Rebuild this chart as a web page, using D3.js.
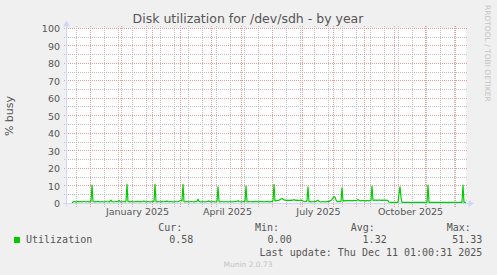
<!DOCTYPE html>
<html><head><meta charset="utf-8">
<script src="https://cdn.jsdelivr.net/npm/d3@7"></script>
<style>
html,body{margin:0;padding:0;background:#f0f0f0;}
svg{display:block;}
</style></head><body>
<svg id="c" width="497" height="275"></svg>
<script>
// ---- data ----
const chartTitle = "Disk utilization for /dev/sdh - by year";
const yAxisLabel = "% busy";
const seriesName = "Utilization";
const firstDay = "2024-11-07";          // first daily sample
const domainStart = "2024-11-06T12:00:00Z";
const domainEnd = "2025-12-11T12:00:00Z";
// daily average utilization (%), one value per day
const utilization = [
  0,0,0,0,0,0,0.9,1.1,1.0,0.8,
  1.0,1.2,0.9,1.0,1.1,0.9,1.0,1.3,1.0,0.9,
  1.0,1.1,0.9,1.0,1.2,10.5,1.1,1.0,0.9,1.1,
  1.0,1.2,1.0,0.9,1.0,1.1,1.0,0.9,1.0,1.1,
  1.0,1.0,0.9,1.2,1.9,1.1,1.0,0.9,1.0,1.1,
  1.0,1.2,1.8,1.0,0.9,1.0,1.1,1.0,0.9,1.2,
  11.0,1.0,1.1,0.9,1.0,1.1,1.0,0.9,1.0,1.1,
  1.0,1.2,1.0,0.9,1.1,1.0,1.0,1.5,1.1,0.9,
  1.0,1.1,1.0,0.9,1.0,1.1,1.0,1.2,11.0,1.0,
  0.9,1.1,1.0,1.0,0.9,1.1,1.0,1.0,1.2,1.0,
  1.5,1.0,0.9,1.0,1.1,1.0,0.9,1.0,1.1,1.0,
  1.0,1.1,1.3,1.6,1.9,1.4,11.0,1.0,0.9,1.0,
  1.1,1.0,0.9,1.0,1.1,1.0,1.0,0.9,1.1,1.0,
  1.3,2.4,1.2,1.0,0.9,1.0,1.1,1.0,0.9,1.0,
  1.1,1.2,1.5,1.0,0.9,1.0,1.1,1.0,0.9,1.0,
  1.1,9.5,1.0,0.9,1.0,1.1,1.0,0.9,1.0,1.1,
  1.0,0.9,1.0,1.1,1.0,0.9,1.0,1.1,1.0,1.2,
  1.3,1.6,1.1,1.0,0.9,1.0,1.1,1.0,1.2,10.0,
  1.0,0.9,1.1,1.0,1.0,1.1,0.9,1.0,1.2,1.0,
  1.1,1.0,0.9,1.3,1.0,1.1,1.0,0.9,1.0,1.1,
  1.0,1.2,1.0,0.9,1.1,1.2,1.5,11.0,1.4,1.6,
  1.8,1.7,1.9,2.2,2.6,2.9,2.4,2.0,1.9,1.8,
  1.8,1.9,1.7,1.8,1.9,1.8,2.0,2.2,1.9,1.8,
  1.9,1.8,1.7,1.8,1.9,1.8,1.4,1.1,1.0,1.2,
  1.5,9.5,1.0,1.1,0.9,1.0,1.0,1.1,1.0,1.2,
  1.5,1.9,1.3,1.0,0.9,1.0,1.1,1.0,0.9,1.0,
  1.1,1.0,1.2,1.5,1.8,2.4,3.2,4.0,3.6,2.0,
  1.2,1.0,1.1,1.0,1.3,9.0,1.4,1.5,1.6,1.5,
  1.7,1.6,1.5,1.7,1.6,1.5,1.6,1.8,1.7,1.6,
  1.9,2.3,1.8,1.6,1.5,1.6,1.7,1.5,1.6,1.5,
  1.6,1.7,1.5,1.6,1.8,10.0,1.9,1.8,2.0,1.9,
  1.8,1.9,2.0,1.9,1.8,1.9,1.8,2.0,1.9,1.8,
  1.9,1.6,0.8,0.7,0.6,0.7,0.6,0.7,0.6,0.7,
  0.6,0.7,5.5,9.5,3.5,0.6,0.6,0.6,0.6,0.6,
  0.6,0.6,0.6,0.6,0.6,0.6,0.6,0.6,0.6,0.6,
  0.6,0.6,0.6,0.6,0.6,0.6,0.6,0.6,0.6,0.6,
  0.6,10.5,0.6,0.6,0.6,0.6,0.6,0.6,0.6,0.6,
  0.6,0.6,0.6,0.6,0.6,0.6,0.6,0.6,0.6,0.6,
  0.6,0.6,0.6,0.6,0.6,0.6,0.6,0.6,0.6,0.6,
  0.6,0.6,0.6,0.6,0.6,0.6,10.5,0.6,0.6,0.58
];
const yTicks = [0,10,20,30,40,50,60,70,80,90,100];
const yMinorTicks = [5,15,25,35,45,55,65,75,85,95];
const monthLabelDates = ["2025-01-01","2025-04-01","2025-07-01","2025-10-01"];
const monthGridDates = ["2024-12-01","2025-01-01","2025-02-01","2025-03-01","2025-04-01","2025-05-01",
  "2025-06-01","2025-07-01","2025-08-01","2025-09-01","2025-10-01","2025-11-01","2025-12-01"];
const minorGridFirst = "2024-11-17";
const legendHeaders = ["Cur:","Min:","Avg:","Max:"];
const legendValues = ["0.58","0.00","1.32","51.33"];
const lastUpdate = "Last update: Thu Dec 11 01:00:31 2025";
const watermark = "RRDTOOL / TOBI OETIKER";
const footer = "Munin 2.0.73";

// ---- drawing ----
const svg = d3.select("#c");
const W = 497, H = 275;
const parse = s => new Date(s.length === 10 ? s + "T00:00:00Z" : s);
const x = d3.scaleUtc().domain([parse(domainStart), parse(domainEnd)]).range([66, 466]);
const y = d3.scaleLinear().domain([0, 100]).range([203.5, 28.5]);
const [x0, x1] = x.range();
const [yb, yt] = y.range();
const colX = v => Math.floor(v + 0.01);      // pixel column of a vertical line
const rowY = v => Math.floor(v - 0.25);      // pixel row of a horizontal line

svg.append("rect").attr("width", W).attr("height", H).attr("fill", "#f0f0f0");
svg.append("rect").attr("x", x0).attr("y", yt - 0.5).attr("width", x1 - x0).attr("height", yb - yt + 0.5).attr("fill", "#ffffff");

const minorCol = "#c0c0c0";
const majorCol = "#e89c9c";
// dotted patterns (one pixel on, one off)
const defs = svg.append("defs");
function dotPattern(id, w, h, col) {
  const p = defs.append("pattern").attr("id", id).attr("patternUnits", "userSpaceOnUse")
    .attr("width", w).attr("height", h);
  p.append("rect").attr("width", 1).attr("height", 1).attr("fill", col);
}
dotPattern("vmin", 1, 2, minorCol);
dotPattern("vmaj", 1, 2, majorCol);
dotPattern("hmin", 2, 1, minorCol);
dotPattern("hmaj", 2, 1, majorCol);

const g = svg.append("g").attr("shape-rendering", "crispEdges");
const gTop = Math.floor(yt) - 2, gBot = Math.floor(yb) + 4;
// horizontal minor
g.selectAll(".hmin").data(yMinorTicks).enter().append("rect")
  .attr("x", x0 - 3).attr("width", x1 - x0 + 5).attr("y", d => rowY(y(d))).attr("height", 1)
  .attr("fill", "url(#hmin)");
// vertical minor (every 14 days)
const minorDates = d3.utcDay.range(parse(minorGridFirst), parse(domainEnd), 14);
g.selectAll(".vmin").data(minorDates).enter().append("rect")
  .attr("x", d => colX(x(d))).attr("width", 1).attr("y", gTop).attr("height", gBot - gTop)
  .attr("fill", "url(#vmin)");
// horizontal major
g.selectAll(".hmaj").data(yTicks).enter().append("rect")
  .attr("x", x0 - 3).attr("width", x1 - x0 + 5).attr("y", d => rowY(y(d))).attr("height", 1)
  .attr("fill", "url(#hmaj)");
// vertical major
g.selectAll(".vmaj").data(monthGridDates.map(parse)).enter().append("rect")
  .attr("x", d => colX(x(d))).attr("width", 1).attr("y", gTop).attr("height", gBot - gTop)
  .attr("fill", "url(#vmaj)");

// y axis labels
const yAxis = d3.axisLeft(y).tickValues(yTicks).tickSize(0).tickPadding(6);
const ya = svg.append("g").attr("transform", `translate(${x0},0)`).call(yAxis);
ya.select(".domain").remove();
ya.selectAll("text").attr("font-family", "DejaVu Sans").attr("font-size", "9.5px").attr("fill", "#555");

// x axis labels (centred in the middle of the month, as rrdtool does)
const labelPos = monthLabelDates.map(s => d3.utcHour.offset(parse(s), 372));
const xAxis = d3.axisBottom(x).tickValues(labelPos).tickSize(0).tickPadding(0)
  .tickFormat(d => d3.utcFormat("%B %Y")(d));
const xa = svg.append("g").attr("transform", `translate(0,${yb})`).call(xAxis);
xa.select(".domain").remove();
xa.selectAll("text").attr("font-family", "DejaVu Sans").attr("font-size", "9.5px").attr("fill", "#555")
  .attr("dy", null).attr("y", 11.5);

// series
const dayDates = utilization.map((v, i) => d3.utcDay.offset(parse(firstDay), i));
const line = d3.line().x((d, i) => x(dayDates[i]) + 0.5).y(d => y(d));
svg.append("path").datum(utilization).attr("d", line)
  .attr("fill", "none").attr("stroke", "#00cc00").attr("stroke-width", 1.2).attr("stroke-linejoin", "round");

// axes with arrows
const axisCol = "#CFD6F8";
svg.append("line").attr("x1", x0 - 3).attr("x2", x1 + 3).attr("y1", yb).attr("y2", yb).attr("stroke", axisCol);
svg.append("line").attr("x1", x0 + 0.5).attr("x2", x0 + 0.5).attr("y1", yb + 3).attr("y2", yt - 3).attr("stroke", axisCol);
svg.append("path").attr("d", `M${x1 + 2.5},${yb - 3.5}L${x1 + 8},${yb}L${x1 + 2.5},${yb + 3.5}Z`).attr("fill", axisCol);
svg.append("path").attr("d", `M${x0 - 3},${yt - 2}L${x0 + 0.5},${yt - 8}L${x0 + 4},${yt - 2}Z`).attr("fill", axisCol);

// title
svg.append("text").attr("x", 248).attr("y", 23).attr("text-anchor", "middle")
  .attr("font-family", "DejaVu Sans").attr("font-size", "12.5px").attr("fill", "#555").text(chartTitle);
// y label
svg.append("text").attr("transform", `translate(13,${(yb + yt) / 2}) rotate(-90)`).attr("text-anchor", "middle")
  .attr("font-family", "DejaVu Sans").attr("font-size", "11px").attr("fill", "#555").text(yAxisLabel);
// watermark
svg.append("text").attr("transform", "translate(485,5) rotate(90)")
  .attr("font-family", "DejaVu Sans").attr("font-size", "7.5px").attr("fill", "#c4c4c4").text(watermark);

// legend
const mono = "DejaVu Sans Mono";
svg.append("rect").attr("x", 14).attr("y", 237).attr("width", 6).attr("height", 6).attr("fill", "#00cc00");
svg.append("text").attr("x", 26).attr("y", 243).attr("font-family", mono).attr("font-size", "10px").attr("fill", "#555").text(seriesName);
const headerX = [158.3, 255, 350.7, 446.7];
const valueRight = [193.3, 291.7, 386.7, 482.3];
legendHeaders.forEach((h, i) => {
  svg.append("text").attr("x", headerX[i]).attr("y", 231).attr("font-family", mono).attr("font-size", "10px").attr("fill", "#555").text(h);
  svg.append("text").attr("x", valueRight[i]).attr("y", 243).attr("text-anchor", "end").attr("font-family", mono).attr("font-size", "10px").attr("fill", "#555").text(legendValues[i]);
});
svg.append("text").attr("x", 482.3).attr("y", 255.5).attr("text-anchor", "end").attr("font-family", mono).attr("font-size", "10px").attr("fill", "#555").text(lastUpdate);
svg.append("text").attr("x", 248).attr("y", 267).attr("text-anchor", "middle").attr("font-family", "DejaVu Sans").attr("font-size", "7.5px").attr("fill", "#c4c4c4").text(footer);
</script>
</body></html>
